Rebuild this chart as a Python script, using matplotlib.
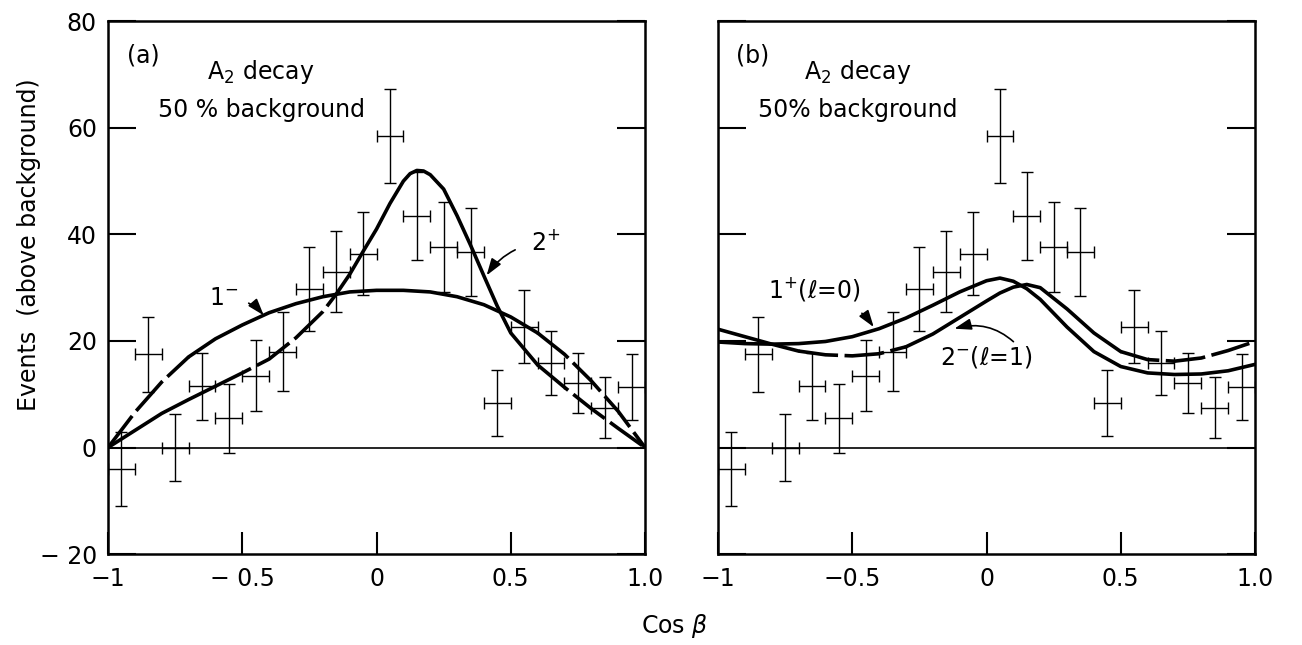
import matplotlib
matplotlib.use('Agg')
from matplotlib import pyplot as plt
import numpy as np

plt.rcParams['font.family'] = ['DejaVu Sans']
plt.rcParams['mathtext.fontset'] = 'dejavusans'

# measured points (same data in both panels)
cos_beta = [-0.95, -0.85, -0.75, -0.65, -0.55, -0.45, -0.35, -0.25, -0.15, -0.05,
            0.05, 0.15, 0.25, 0.35, 0.45, 0.55, 0.65, 0.75, 0.85, 0.95]
events = [-4.0, 17.5, 0.0, 11.5, 5.5, 13.5, 18.0, 29.8, 33.0, 36.4,
          58.5, 43.4, 37.6, 36.7, 8.3, 22.7, 15.8, 12.1, 7.5, 11.3]
events_err = [7.0, 7.0, 6.2, 6.3, 6.5, 6.7, 7.4, 7.9, 7.6, 7.8,
              8.8, 8.3, 8.4, 8.2, 6.2, 6.8, 6.0, 5.7, 5.7, 6.2]
bin_half = 0.05

# panel (a) predictions
xa = [-1.0, -0.9, -0.8, -0.7, -0.6, -0.5, -0.4, -0.3, -0.2, -0.1, 0.0,
      0.1, 0.2, 0.3, 0.4, 0.5, 0.6, 0.7, 0.8, 0.9, 1.0]
curve_1m = [0.0, 6.6, 12.3, 17.0, 20.4, 23.0, 25.3, 27.0, 28.3, 29.2, 29.5,
            29.5, 29.2, 28.3, 26.8, 24.5, 21.5, 17.5, 12.5, 6.8, 0.0]
x2p = [-1.0, -0.9, -0.8, -0.7, -0.6, -0.5, -0.4, -0.3, -0.2, -0.15, -0.1, -0.05, 0.0,
       0.05, 0.1, 0.125, 0.15, 0.175, 0.2, 0.25, 0.3, 0.35, 0.4, 0.45, 0.5,
       0.6, 0.7, 0.8, 0.9, 1.0]
curve_2p = [0.0, 3.2, 6.4, 9.0, 11.5, 14.0, 16.6, 20.6, 25.5, 28.8, 32.5, 36.8, 41.0,
            45.8, 50.0, 51.4, 52.0, 51.9, 51.2, 48.5, 43.5, 38.0, 32.2, 26.5, 21.5,
            15.5, 11.3, 7.3, 3.6, 0.0]

# panel (b) predictions
xb = [-1.0, -0.9, -0.8, -0.7, -0.6, -0.5, -0.4, -0.3, -0.2, -0.1, 0.0, 0.05,
      0.1, 0.15, 0.2, 0.3, 0.4, 0.5, 0.6, 0.7, 0.8, 0.9, 1.0]
curve_1p = [19.8, 19.5, 19.4, 19.5, 19.9, 20.8, 22.3, 24.3, 26.7, 29.2, 31.3, 31.8,
            31.2, 29.8, 27.8, 22.6, 18.0, 15.2, 14.0, 13.7, 13.8, 14.4, 15.6]
curve_2m = [22.2, 20.8, 19.4, 18.1, 17.4, 17.2, 17.6, 18.9, 21.3, 24.4, 27.5, 29.0,
            30.1, 30.6, 30.0, 26.0, 21.5, 18.0, 16.5, 16.2, 16.8, 18.2, 19.9]


def draw_curve(ax, xs, ys, dashed=()):
    # split the curve in runs, dashed where the segment midpoint is in a dashed range
    xs = np.asarray(xs)
    ys = np.asarray(ys)
    mids = (xs[:-1] + xs[1:]) / 2
    flags = [any(lo <= m <= hi for lo, hi in dashed) for m in mids]
    start = 0
    for i in range(1, len(flags) + 1):
        if i == len(flags) or flags[i] != flags[start]:
            seg_x = xs[start:i + 1]
            seg_y = ys[start:i + 1]
            if flags[start]:
                ax.plot(seg_x, seg_y, color='black', lw=2.6, dashes=(11, 1.8),
                        solid_capstyle='butt', dash_capstyle='butt')
            else:
                ax.plot(seg_x, seg_y, color='black', lw=2.6, solid_capstyle='round',
                        solid_joinstyle='round')
            start = i


def setup(ax, ylabels):
    ax.set_xlim(-1, 1)
    ax.set_ylim(-20, 80)
    ax.axhline(0, color='black', lw=1.2)
    ax.errorbar(cos_beta, events, yerr=events_err, xerr=bin_half, fmt='none',
                ecolor='black', elinewidth=1.0, capsize=4.5, capthick=1.0)
    for s in ax.spines.values():
        s.set_linewidth(1.8)
    ax.set_xticks([-1, -0.5, 0, 0.5, 1.0])
    ax.set_yticks([-20, 0, 20, 40, 60, 80])
    ax.tick_params(axis='x', direction='in', length=16, width=1.5, pad=9,
                   labelsize=17, top=False)
    ax.tick_params(axis='y', direction='in', length=20, width=1.5, pad=8,
                   labelsize=17, right=True)
    if ylabels:
        ax.set_yticklabels(['\u2212 20', '0', '20', '40', '60', '80'])
    else:
        ax.set_yticklabels([])


fig = plt.figure(figsize=(13.02, 6.45), dpi=100)
ax1 = fig.add_axes([0.083, 0.141, 0.4124, 0.826])
ax2 = fig.add_axes([0.5515, 0.141, 0.4124, 0.826])

# panel (a)
setup(ax1, True)
ax1.set_xticklabels(['\u22121', '\u2212 0.5', '0', '0.5', '1.0'])
draw_curve(ax1, xa, curve_1m, dashed=[(-1.0, -0.65), (0.6, 1.0)])
draw_curve(ax1, x2p, curve_2p, dashed=[(-0.58, -0.12), (0.6, 1.0)])
ax1.text(-0.87, 73.5, '(a)', fontsize=17, ha='center', va='center')
ax1.text(-0.43, 70.5, 'A$_2$ decay', fontsize=17, ha='center', va='center')
ax1.text(-0.43, 63.3, '50 % background', fontsize=17, ha='center', va='center')
ax1.annotate('1$^{-}$', xy=(-0.42, 24.8), xytext=(-0.57, 28.0), fontsize=17,
             ha='center', va='center',
             arrowprops=dict(arrowstyle='-|>,head_length=0.6,head_width=0.2',
                             color='black', lw=1.2, shrinkA=6, shrinkB=0,
                             connectionstyle='arc3,rad=-0.25'))
ax1.annotate('2$^{+}$', xy=(0.41, 32.3), xytext=(0.63, 38.5), fontsize=17,
             ha='center', va='center',
             arrowprops=dict(arrowstyle='-|>,head_length=0.6,head_width=0.2',
                             color='black', lw=1.2, shrinkA=10, shrinkB=0,
                             connectionstyle='arc3,rad=0.25'))

# panel (b)
setup(ax2, False)
ax2.set_xticklabels(['\u22121', '\u22120.5', '0', '0.5', '1.0'])
draw_curve(ax2, xb, curve_1p)
draw_curve(ax2, xb, curve_2m, dashed=[(-0.7, -0.3), (0.55, 1.0)])
ax2.text(-0.87, 73.5, '(b)', fontsize=17, ha='center', va='center')
ax2.text(-0.48, 70.5, 'A$_2$ decay', fontsize=17, ha='center', va='center')
ax2.text(-0.48, 63.3, '50% background', fontsize=17, ha='center', va='center')
ax2.annotate('1$^{+}$(\u2113=0)', xy=(-0.42, 22.6), xytext=(-0.64, 29.7), fontsize=17,
             ha='center', va='center',
             arrowprops=dict(arrowstyle='-|>,head_length=0.6,head_width=0.2',
                             color='black', lw=1.2, shrinkA=8, shrinkB=0,
                             connectionstyle='arc3,rad=-0.2'))
ax2.annotate('2$^{-}$(\u2113=1)', xy=(-0.12, 22.3), xytext=(0.0, 16.9), fontsize=17,
             ha='center', va='center',
             arrowprops=dict(arrowstyle='-|>,head_length=0.6,head_width=0.2',
                             color='black', lw=1.2, shrinkA=0, shrinkB=0,
                             relpos=(0.85, 0.9),
                             connectionstyle='arc3,rad=0.3'))

fig.text(0.022, 0.62, 'Events  (above background)', rotation=90, fontsize=17,
         ha='center', va='center')
fig.text(0.518, 0.03, 'Cos $\\beta$', fontsize=17, ha='center', va='center')

fig.savefig('out.png', dpi=100)
